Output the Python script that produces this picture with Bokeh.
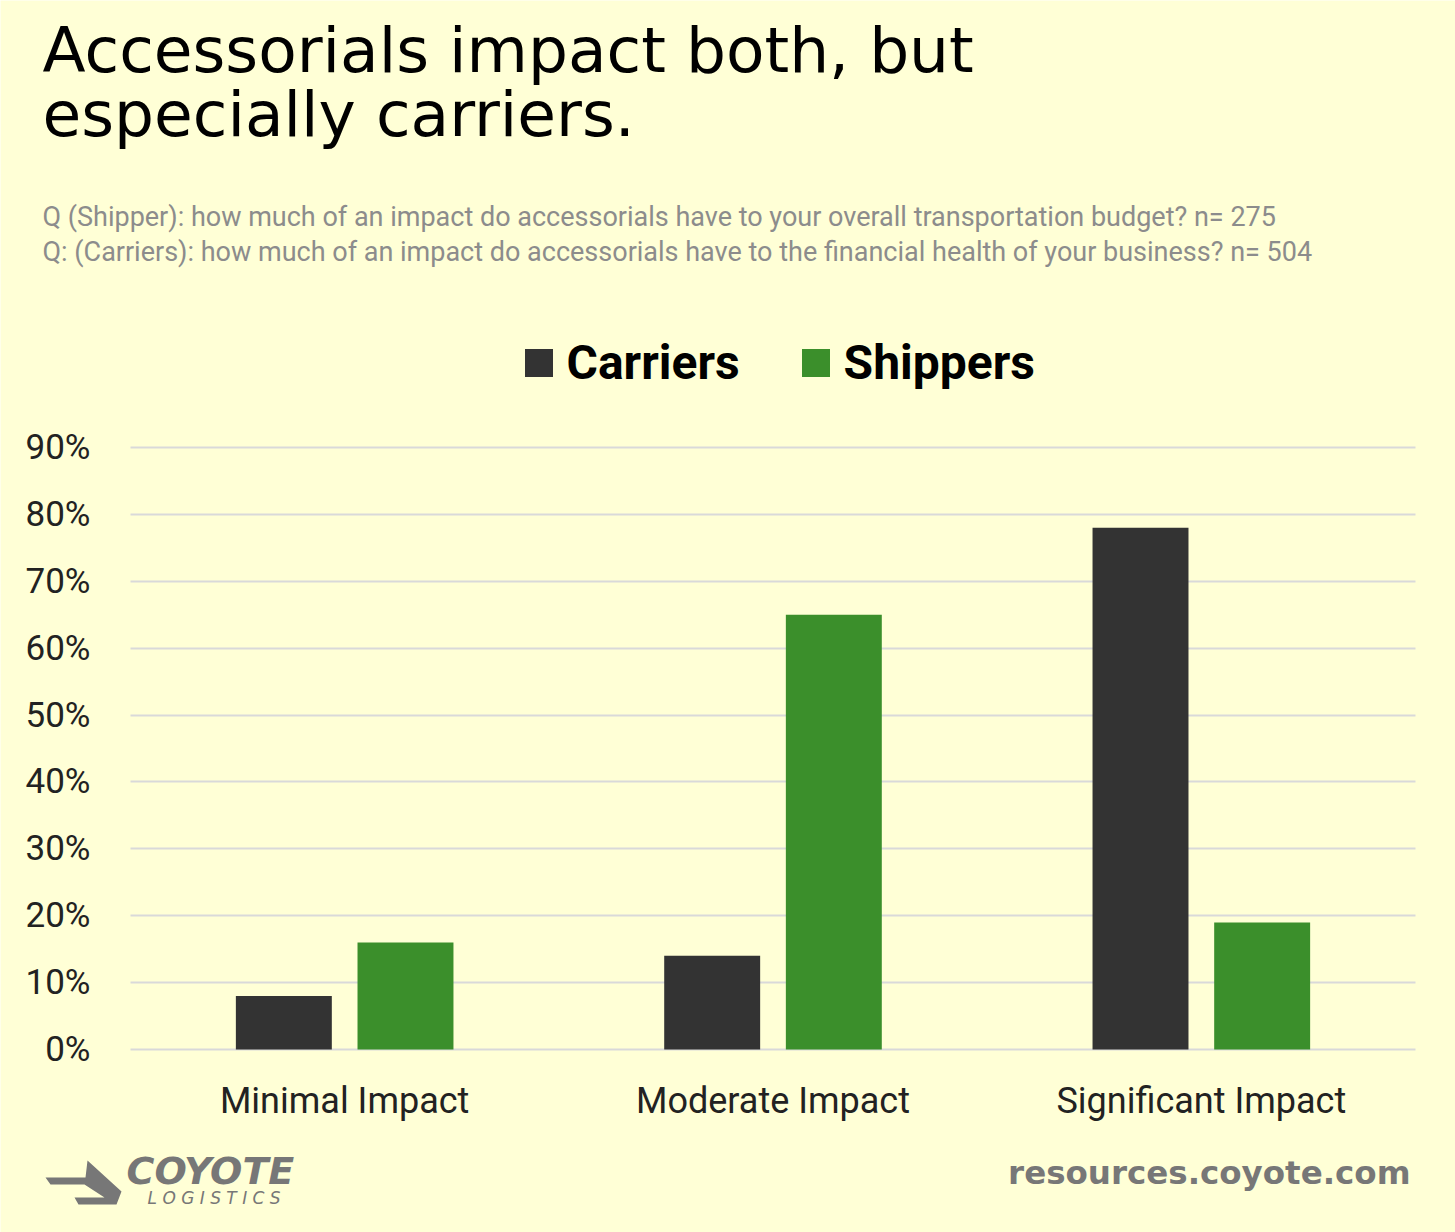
from bokeh.plotting import figure
from bokeh.models import (ColumnDataSource, Range1d, Label, Legend, LegendItem, LinearAxis, Grid,
                          FixedTicker, PrintfTickFormatter, PolyAnnotation)
from bokeh.transform import dodge
from bokeh.embed import file_html
from bokeh.resources import INLINE

categories = ["Minimal Impact", "Moderate Impact", "Significant Impact"]
positions = [0.5, 1.5, 2.5]
carriers = [8, 14, 78]
shippers = [16, 65, 19]
y_ticks = [0, 10, 20, 30, 40, 50, 60, 70, 80, 90]

BG = "#FFFFD6"
DARK = "#333333"
GREEN = "#3B8F2B"

W, H = 1455, 1232
FL, FR, FT, FB = 130, 1415, 447, 1049  # plot-area edges in canvas px
ppx = (FR - FL) / 3.0
ppy = (FB - FT) / 90.0

src = ColumnDataSource(dict(x=positions, carriers=carriers, shippers=shippers))

p = figure(x_range=Range1d(-FL / ppx, 3 + (W - FR) / ppx),
           y_range=Range1d(-(H - FB) / ppy, 90 + FT / ppy),
           width=W, height=H, output_backend="svg", toolbar_location=None,
           x_axis_location=None, y_axis_location=None,
           min_border=0, min_border_left=0, min_border_right=0, min_border_top=0, min_border_bottom=0,
           background_fill_color=BG, border_fill_color=BG, outline_line_color=None)

p.xgrid.grid_line_color = None
p.ygrid.grid_line_color = None
p.add_layout(Grid(dimension=1, ticker=FixedTicker(ticks=y_ticks), grid_line_color="#D9D9D9",
                  grid_line_width=2, cross_bounds=(0, 3)))

r1 = p.vbar(x=dodge("x", -0.142), top="carriers", width=0.224, source=src,
            fill_color=DARK, line_color=None)
r2 = p.vbar(x=dodge("x", 0.142), top="shippers", width=0.224, source=src,
            fill_color=GREEN, line_color=None)

yax = LinearAxis(fixed_location=0, ticker=FixedTicker(ticks=y_ticks),
                 formatter=PrintfTickFormatter(format="%d%%"),
                 axis_line_color=None, major_tick_line_color=None, minor_tick_line_color=None,
                 major_tick_out=0, major_tick_in=0, major_label_standoff=40,
                 major_label_text_font="Roboto", major_label_text_font_size="35px",
                 major_label_text_color="#222222")
p.add_layout(yax, "left")

xax = LinearAxis(fixed_location=0, ticker=FixedTicker(ticks=positions),
                 major_label_overrides={pos: c for pos, c in zip(positions, categories)},
                 axis_line_color=None, major_tick_line_color=None, minor_tick_line_color=None,
                 major_tick_out=0, major_tick_in=0, major_label_standoff=30,
                 major_label_text_font="Roboto", major_label_text_font_size="36px",
                 major_label_text_color="#222222")
p.add_layout(xax, "below")

legend = Legend(items=[LegendItem(label="Carriers", renderers=[r1]),
                       LegendItem(label="Shippers", renderers=[r2])],
                orientation="horizontal", location=(520.5, H - 391),
                padding=0, margin=0, spacing=58, label_standoff=11,
                glyph_width=35, glyph_height=35,
                label_text_font="Roboto", label_text_font_style="bold",
                label_text_font_size="48px", label_text_color="#000000",
                background_fill_alpha=0, border_line_color=None)
p.add_layout(legend)


def add_text(txt, cx, base, font, size, color, style="normal", align="left"):
    # base = desired alphabetic baseline in canvas px (compensating the renderer's offset)
    cy = base - 0.38 * size
    p.add_layout(Label(x=cx, y=H - cy, x_units="screen", y_units="screen", text=txt,
                       text_font=font, text_font_size=f"{size}px", text_color=color,
                       text_font_style=style, text_align=align, text_baseline="alphabetic"))


add_text("Accessorials impact both, but", 42, 74, "DejaVu Sans", 63, "#000000")
add_text("especially carriers.", 42, 138, "DejaVu Sans", 63, "#000000")
add_text("Q (Shipper): how much of an impact do accessorials have to your overall transportation budget? n= 275",
         42, 227, "Roboto", 27, "#8C8C8C")
add_text("Q: (Carriers): how much of an impact do accessorials have to the financial health of your business? n= 504",
         42, 262, "Roboto", 27, "#8C8C8C")
add_text("resources.coyote.com", 1410, 1185, "DejaVu Sans", 32.5, "#777777", style="bold", align="right")
add_text("COYOTE", 126, 1185, "DejaVu Sans", 38, "#777777", style="bold italic")
add_text("L O G I S T I C S", 147, 1204, "DejaVu Sans", 17, "#777777", style="italic")

chev_x = [45, 85, 87, 121, 116, 78, 74, 104, 84, 50]
chev_y = [1177, 1177, 1160, 1191, 1204, 1204, 1197, 1197, 1184, 1184]
p.add_layout(PolyAnnotation(xs=chev_x, ys=[H - y for y in chev_y],
                            xs_units="screen", ys_units="screen",
                            fill_color="#777777", fill_alpha=1, line_color=None))

open("out.html", "w").write(file_html(p, INLINE))
